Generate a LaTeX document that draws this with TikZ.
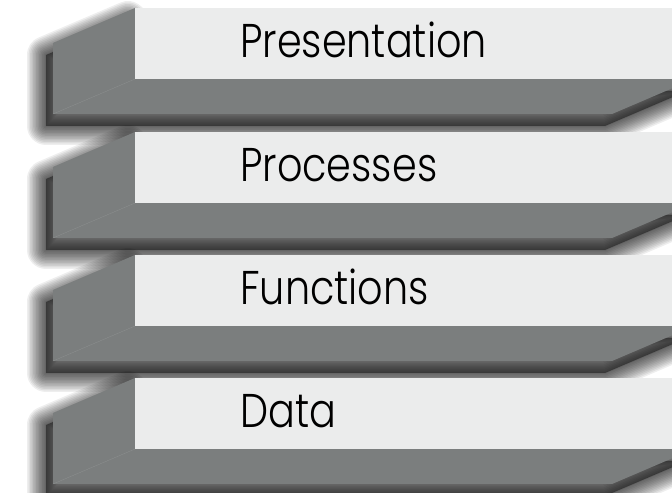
\documentclass[tikz,border=0pt]{standalone}
\usepackage{fontspec}
\IfFontExistsTF{Poppins Light}{\setmainfont{Poppins Light}[FakeStretch=0.84]}{\setmainfont{Poppins}[FakeStretch=0.84]}
\usetikzlibrary{calc}
\definecolor{faceLight}{HTML}{EBECEC}
\definecolor{faceDark}{HTML}{7B7E7E}
\definecolor{edgeGray}{HTML}{8F9292}
\newcommand\slabOutline{(0,0) -- (-82,-35) -- (-82,-106) -- (477,-106) -- (559,-71) -- (0,-71) -- cycle}
\newcommand\drawLayerSlab[3]{%
\coordinate(p) at (135,#1);
% soft shadow
\begin{scope}[shift = {($ (p) + (-7,-12) $)}]
\fill[black, opacity = 0.4] \slabOutline;
\foreach \w in {38,35,...,2} {\draw[black, opacity = 0.065, line width = \w*0.75pt, line join = round] \slabOutline;}
\end{scope}
\begin{scope}[shift = {(p)}]
\fill[faceDark] \slabOutline;
\draw[edgeGray, very thin] (-82,-106) -- (0,-71);
\fill[faceLight] (0,0) rectangle (559,-71);
\node[anchor = base west, inner sep = 0pt, font = \fontsize{35.5}{40}\selectfont] (#2) at (105,-50) {#3};
\end{scope}
}

\begin{document}
\begin{tikzpicture}[x=0.75pt, y=0.75pt]
			\useasboundingbox[fill = white] (0,0) rectangle (672,493);

			% drawing layers
			\drawLayerSlab{485}{presentation}{Presentation}
			\drawLayerSlab{361}{processes}{Processes}
			\drawLayerSlab{238}{functions}{Functions}
			\drawLayerSlab{115}{data}{Data}

		\end{tikzpicture}
\end{document}
